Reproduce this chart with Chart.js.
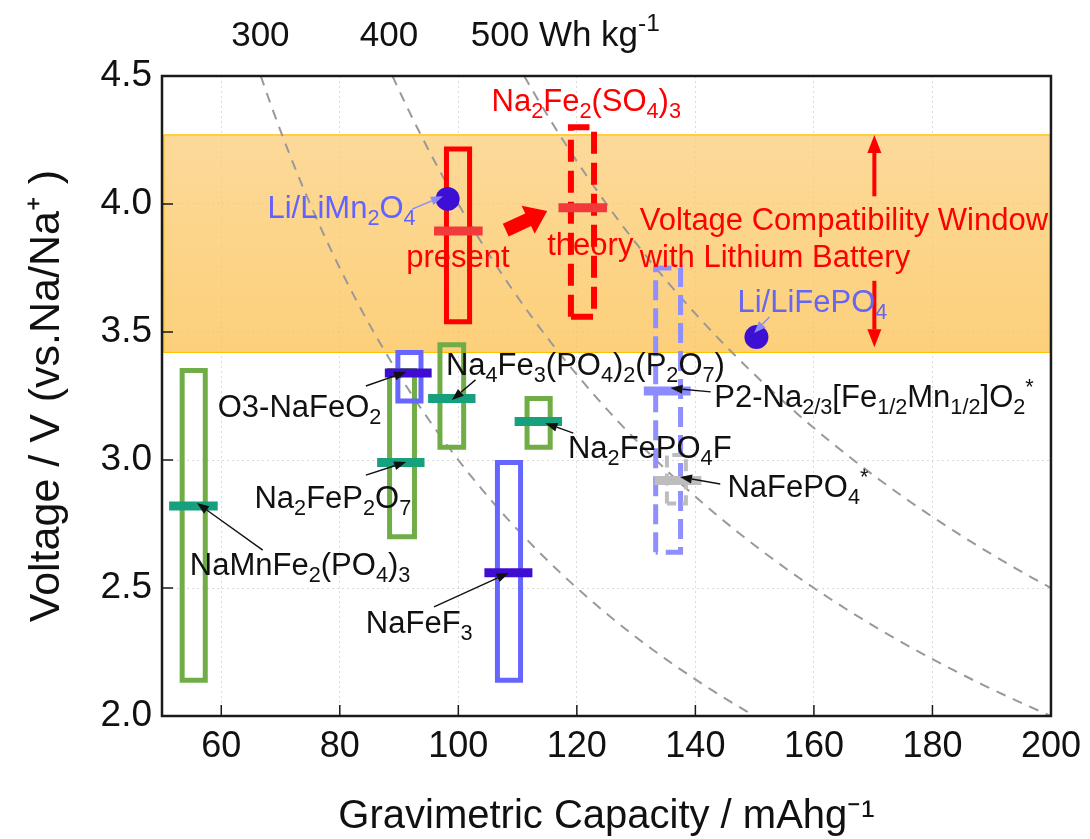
<!DOCTYPE html>
<html>
<head>
<meta charset="utf-8">
<script src="https://cdn.jsdelivr.net/npm/chart.js@4.4.0/dist/chart.umd.min.js"></script>
<style>
html, body { margin: 0; padding: 0; background: #fff; }
#wrap { width: 1090px; height: 839px; }
</style>
</head>
<body>
<div id="wrap"><canvas id="chart"></canvas></div>
<script>
// voltage range boxes (capacity mAh/g, voltage V)
const boxNames = ['NaMnFe2(PO4)3', 'Na2FeP2O7', 'Na4Fe3(PO4)2(P2O7)', 'Na2FePO4F', 'O3-NaFeO2',
                  'NaFeF3', 'present', 'theory', 'P2-Na2/3[Fe1/2Mn1/2]O2', 'NaFePO4'];
const boxCapLo = [53.4, 88.4, 96.9, 111.6, 89.8, 106.6, 98.0, 119.0, 133.3, 135.2];
const boxCapHi = [57.3, 92.6, 100.9, 115.5, 93.7, 110.5, 101.9, 122.9, 137.5, 138.4];
const boxVLo   = [2.14, 2.70, 3.05, 3.05, 3.23, 2.14, 3.54, 3.56, 2.64, 2.83];
const boxVHi   = [3.35, 3.35, 3.45, 3.24, 3.42, 2.99, 4.215, 4.30, 3.75, 3.02];

// average voltage bars
const barCapLo = [51.2, 86.3, 94.9, 109.5, 87.6, 104.4, 95.9, 116.9, 131.3, 133.1];
const barCapHi = [59.4, 94.3, 102.9, 117.5, 95.5, 112.5, 104.1, 125.1, 139.2, 141.0];
const barV     = [2.82, 2.99, 3.24, 3.15, 3.34, 2.56, 3.895, 3.985, 3.27, 2.92];

// lithium cells for reference
const liNames = ['Li/LiMn2O4', 'Li/LiFePO4'];
const liCap = [98.2, 150.3];
const liV = [4.02, 3.48];

// voltage compatibility window
const windowV = [3.42, 4.27];

// energy density guide lines, Wh/kg
const energyLevels = [300, 400, 500];

const xTicks = [60, 80, 100, 120, 140, 160, 180, 200];
const yTicks = [2.0, 2.5, 3.0, 3.5, 4.0, 4.5];

// styles
const GREEN = '#70AD47', TEAL = '#17A07E', BLUE = '#6666FF', INDIGO = '#3F0CD2';
const boxColors = [GREEN, GREEN, GREEN, GREEN, BLUE, BLUE, '#FF0000', '#FF0000', '#8F8FFF', '#BDBDBD'];
const boxDash = [[], [], [], [], [], [], [], [22, 9], [20, 8], [12, 6]];
const boxWidth = [5, 5, 5, 5, 5, 5, 5, 6, 5, 4];
const barColors = [TEAL, TEAL, TEAL, TEAL, INDIGO, INDIGO, '#F23A3A', '#F23A3A', '#8C8CFF', '#BDBDBD'];

const FONT = "'Liberation Sans', Arial, sans-serif";
const LABEL_SIZE = 31;
Chart.defaults.font.family = FONT;

// text annotations, anchored left/baseline in data coords
const labels = [
  {t: 'Na_2Fe_2(SO_4)_3', x: 105.6, y: 4.363, c: '#FF0000'},
  {t: 'present', x: 91.2, y: 3.754, c: '#FF0000'},
  {t: 'theory', x: 115.0, y: 3.80, c: '#FF0000'},
  {t: 'Li/LiMn_2O_4', x: 67.8, y: 3.945, c: '#6262FF'},
  {t: 'Voltage Compatibility Window', x: 130.6, y: 3.898, c: '#FF0000'},
  {t: 'with Lithium Battery', x: 130.6, y: 3.754, c: '#FF0000'},
  {t: 'Li/LiFePO_4', x: 147.1, y: 3.578, c: '#6666F2'},
  {t: 'O3-NaFeO_2', x: 59.4, y: 3.168, c: '#111'},
  {t: 'Na_4Fe_3(PO_4)_2(P_2O_7)', x: 97.9, y: 3.332, c: '#111'},
  {t: 'Na_2FePO_4F', x: 118.5, y: 3.008, c: '#111'},
  {t: 'Na_2FeP_2O_7', x: 65.6, y: 2.813, c: '#111'},
  {t: 'NaMnFe_2(PO_4)_3', x: 54.7, y: 2.551, c: '#111'},
  {t: 'NaFeF_3', x: 84.4, y: 2.324, c: '#111'},
  {t: 'P2-Na_{2/3}[Fe_{1/2}Mn_{1/2}]O_2^*', x: 143.2, y: 3.207, c: '#111'},
  {t: 'NaFePO_4^*', x: 145.4, y: 2.855, c: '#111'}
];
const pointers = [
  {x1: 92.2, y1: 3.98, x2: 97.4, y2: 4.03, c: '#8A8AFF'},
  {x1: 152.5, y1: 3.559, x2: 149.9, y2: 3.496, c: '#8A8AFF'},
  {x1: 84.4, y1: 3.289, x2: 91.2, y2: 3.344, c: '#111'},
  {x1: 102.9, y1: 3.313, x2: 98.9, y2: 3.234, c: '#111'},
  {x1: 119.4, y1: 3.105, x2: 114.7, y2: 3.144, c: '#111'},
  {x1: 84.4, y1: 2.941, x2: 91.2, y2: 2.992, c: '#111'},
  {x1: 67.0, y1: 2.648, x2: 55.9, y2: 2.832, c: '#111'},
  {x1: 95.9, y1: 2.426, x2: 108.5, y2: 2.559, c: '#111'},
  {x1: 142.6, y1: 3.266, x2: 135.8, y2: 3.281, c: '#111'},
  {x1: 144.2, y1: 2.906, x2: 137.4, y2: 2.934, c: '#111'}
];
const topLabels = [
  {t: '300', x: 66.6, align: 'center'},
  {t: '400', x: 88.3, align: 'center'},
  {t: '500 Wh kg^{-1}', x: 102.1, align: 'left'}
];

function parseRich(s) {
  const out = [];
  let buf = '', i = 0;
  while (i < s.length) {
    const ch = s[i];
    if (ch === '_' || ch === '^') {
      if (buf) { out.push({t: buf, m: 0}); buf = ''; }
      let t;
      if (s[i + 1] === '{') { const j = s.indexOf('}', i + 2); t = s.slice(i + 2, j); i = j + 1; }
      else { t = s[i + 1]; i += 2; }
      out.push({t: t, m: ch === '_' ? 1 : 2});
    } else { buf += ch; i++; }
  }
  if (buf) out.push({t: buf, m: 0});
  return out;
}

function richWidth(ctx, parts, size) {
  let w = 0;
  parts.forEach(p => {
    ctx.font = (p.m ? size * 0.7 : size) + 'px ' + FONT;
    w += ctx.measureText(p.t).width;
  });
  return w;
}

function drawRich(ctx, s, x, y, size, color, align) {
  const parts = parseRich(s);
  ctx.save();
  ctx.fillStyle = color;
  ctx.textBaseline = 'alphabetic';
  ctx.textAlign = 'left';
  let cx = x;
  if (align === 'center') cx -= richWidth(ctx, parts, size) / 2;
  parts.forEach(p => {
    const fs = p.m ? size * 0.7 : size;
    ctx.font = fs + 'px ' + FONT;
    const dy = p.m === 1 ? size * 0.22 : (p.m === 2 ? -size * 0.42 : 0);
    ctx.fillText(p.t, cx, y + dy);
    cx += ctx.measureText(p.t).width;
  });
  ctx.restore();
}

function arrow(ctx, x1, y1, x2, y2, color, lw, hl, hw) {
  const a = Math.atan2(y2 - y1, x2 - x1);
  const bx = x2 - Math.cos(a) * hl, by = y2 - Math.sin(a) * hl;
  ctx.save();
  ctx.strokeStyle = color; ctx.fillStyle = color; ctx.lineWidth = lw;
  ctx.beginPath(); ctx.moveTo(x1, y1); ctx.lineTo(bx, by); ctx.stroke();
  ctx.beginPath();
  ctx.moveTo(x2, y2);
  ctx.lineTo(bx + Math.sin(a) * hw / 2, by - Math.cos(a) * hw / 2);
  ctx.lineTo(bx - Math.sin(a) * hw / 2, by + Math.cos(a) * hw / 2);
  ctx.closePath(); ctx.fill();
  ctx.restore();
}

function blockArrow(ctx, x1, y1, x2, y2, sw, hw, hl, color) {
  const a = Math.atan2(y2 - y1, x2 - x1);
  const len = Math.hypot(x2 - x1, y2 - y1);
  ctx.save();
  ctx.translate(x1, y1); ctx.rotate(a);
  ctx.fillStyle = color;
  ctx.beginPath();
  ctx.moveTo(0, -sw / 2); ctx.lineTo(len - hl, -sw / 2); ctx.lineTo(len - hl, -hw / 2);
  ctx.lineTo(len, 0);
  ctx.lineTo(len - hl, hw / 2); ctx.lineTo(len - hl, sw / 2); ctx.lineTo(0, sw / 2);
  ctx.closePath(); ctx.fill();
  ctx.restore();
}

const annotate = {
  id: 'annotate',
  afterDatasetsDraw(chart) {
    const ctx = chart.ctx, xs = chart.scales.x, ys = chart.scales.y;
    const X = v => xs.getPixelForValue(v), Y = v => ys.getPixelForValue(v);
    // improvement arrow
    blockArrow(ctx, X(108.0), Y(3.898), X(115.0), Y(3.973), 14, 31, 21, '#FF0000');
    // window arrows
    arrow(ctx, X(170.2), Y(4.03), X(170.2), Y(windowV[1]), '#FF0000', 4, 18, 14);
    arrow(ctx, X(170.2), Y(3.70), X(170.2), Y(windowV[0] + 0.02), '#FF0000', 4, 18, 14);
    pointers.forEach(p => arrow(ctx, X(p.x1), Y(p.y1), X(p.x2), Y(p.y2), p.c, 1.4, 12, 9));
    labels.forEach(l => drawRich(ctx, l.t, X(l.x), Y(l.y), LABEL_SIZE, l.c, 'left'));
  },
  afterDraw(chart) {
    const ctx = chart.ctx, xs = chart.scales.x, ys = chart.scales.y, a = chart.chartArea;
    ctx.save();
    ctx.strokeStyle = '#1a1a1a';
    ctx.lineWidth = 1.5;
    ctx.beginPath();
    xTicks.forEach(v => { const p = xs.getPixelForValue(v); ctx.moveTo(p, a.bottom); ctx.lineTo(p, a.bottom - 11); });
    yTicks.forEach(v => { const p = ys.getPixelForValue(v); ctx.moveTo(a.left, p); ctx.lineTo(a.left + 11, p); });
    ctx.stroke();
    ctx.lineWidth = 2.5;
    ctx.strokeRect(a.left, a.top, a.right - a.left, a.bottom - a.top);
    ctx.restore();
    topLabels.forEach(l => drawRich(ctx, l.t, xs.getPixelForValue(l.x), 46, 35, '#111', l.align));
  }
};

const datasets = [];

// compatibility window band
datasets.push({
  data: [{x: 50.3, y: windowV[1]}, {x: 199.9, y: windowV[1]}, {x: 199.9, y: windowV[0]},
         {x: 50.3, y: windowV[0]}, {x: 50.3, y: windowV[1]}],
  fill: 'shape',
  backgroundColor: c => {
    const ch = c.chart;
    if (!ch.chartArea) return 'rgba(252,205,120,0.75)';
    const y = ch.scales.y;
    const g = ch.ctx.createLinearGradient(0, y.getPixelForValue(windowV[1]), 0, y.getPixelForValue(windowV[0]));
    g.addColorStop(0, 'rgba(252,205,120,0.75)');
    g.addColorStop(1, 'rgba(251,192,78,0.75)');
    return g;
  },
  borderColor: '#FFC000', borderWidth: 1.2, pointRadius: 0, order: 100
});

// iso-energy curves: capacity = energy / voltage
energyLevels.forEach(e => {
  const pts = [];
  for (let i = 0; i <= 125; i++) {
    const v = 4.5 - i * 0.02;
    pts.push({x: e / v, y: v});
  }
  datasets.push({data: pts, borderColor: '#999999', borderWidth: 2, borderDash: [10, 8],
                 pointRadius: 0, fill: false, order: 90});
});

boxNames.forEach((n, i) => {
  datasets.push({
    label: n,
    data: [{x: boxCapLo[i], y: boxVLo[i]}, {x: boxCapLo[i], y: boxVHi[i]}, {x: boxCapHi[i], y: boxVHi[i]},
           {x: boxCapHi[i], y: boxVLo[i]}, {x: boxCapLo[i], y: boxVLo[i]}],
    borderColor: boxColors[i], borderWidth: boxWidth[i], borderDash: boxDash[i],
    borderJoinStyle: 'miter', borderCapStyle: boxDash[i].length ? 'butt' : 'square',
    pointRadius: 0, fill: false, order: 60 - i
  });
});

barV.forEach((v, i) => {
  datasets.push({
    label: boxNames[i] + ' avg',
    data: [{x: barCapLo[i], y: v}, {x: barCapHi[i], y: v}],
    borderColor: barColors[i], borderWidth: 9, borderCapStyle: 'butt',
    pointRadius: 0, fill: false, order: 40 - i
  });
});

datasets.push({
  label: 'Li reference',
  data: liCap.map((c, i) => ({x: c, y: liV[i]})),
  showLine: false, pointRadius: 12, pointBackgroundColor: '#3D0FD4', pointBorderWidth: 0, order: 5
});

new Chart(document.getElementById('chart'), {
  type: 'line',
  data: {datasets: datasets},
  options: {
    responsive: true,
    maintainAspectRatio: false,
    animation: false,
    layout: {padding: {top: 76, right: 35, left: 0, bottom: 0}},
    plugins: {legend: {display: false}, tooltip: {enabled: false}},
    scales: {
      x: {
        type: 'linear', min: 50, max: 200,
        afterBuildTicks: s => { s.ticks = xTicks.map(v => ({value: v})); },
        afterFit: s => { s.height = 123; },
        ticks: {font: {size: 36}, color: '#111', padding: 9, maxRotation: 0, autoSkip: false},
        grid: {color: 'rgba(0,0,0,0.14)', lineWidth: 1, drawTicks: false},
        border: {display: false, dash: [2, 3]},
        title: {display: true, text: 'Gravimetric Capacity / mAhg⁻¹', color: '#111',
                font: {family: "'Liberation Sans Narrow', 'Liberation Sans', Arial", size: 40, lineHeight: 1},
                padding: {top: 0, bottom: 2}}
      },
      y: {
        type: 'linear', min: 2, max: 4.5,
        afterBuildTicks: s => { s.ticks = yTicks.map(v => ({value: v})); },
        afterFit: s => { s.width = 162; },
        ticks: {font: {size: 37}, color: '#111', padding: 10, callback: v => v.toFixed(1)},
        grid: {color: 'rgba(0,0,0,0.14)', lineWidth: 1, drawTicks: false},
        border: {display: false, dash: [2, 3]},
        title: {display: true, text: 'Voltage / V (vs.Na/Na⁺ )', color: '#111',
                font: {size: 43, lineHeight: 1.2}, padding: {top: 21, bottom: 0}}
      }
    }
  },
  plugins: [annotate]
});
</script>
</body>
</html>
